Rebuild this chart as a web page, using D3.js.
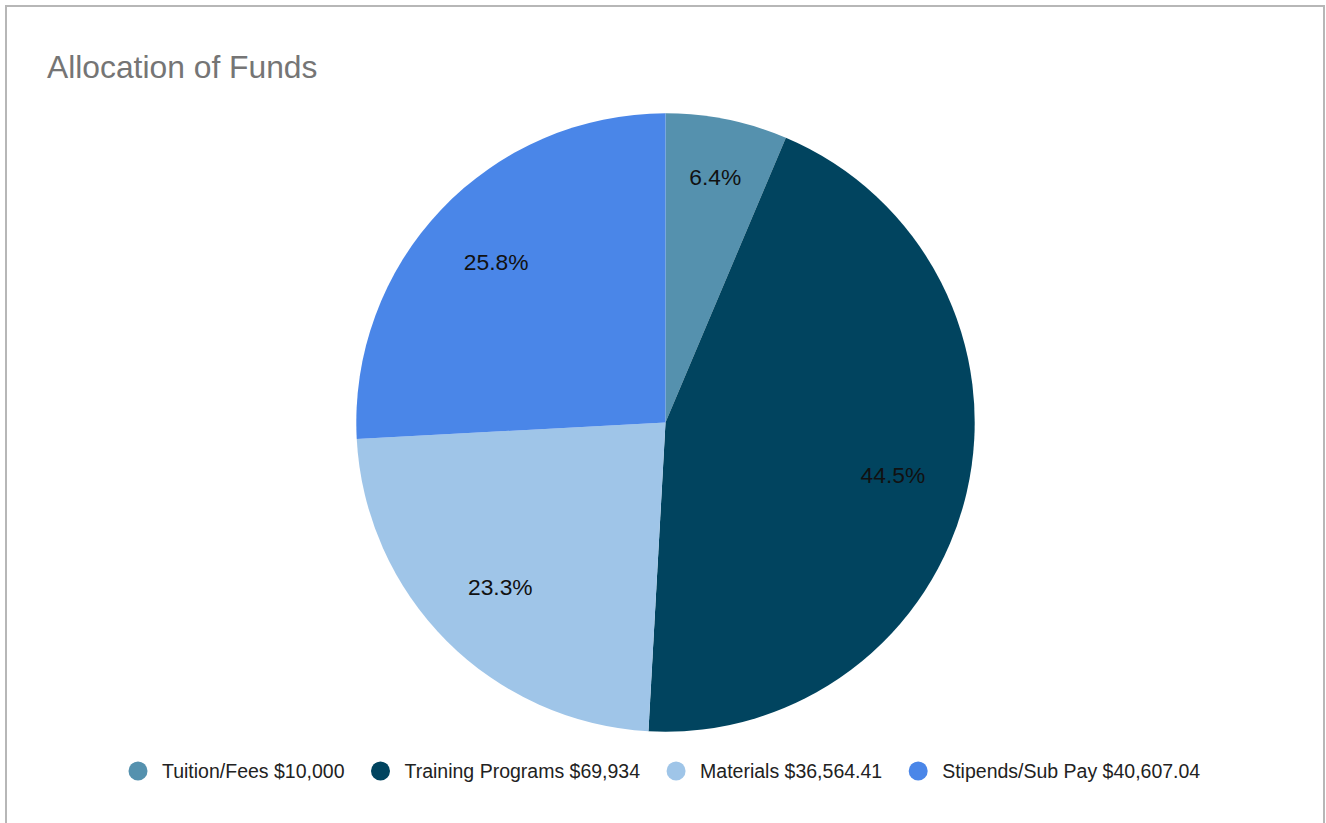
<!DOCTYPE html>
<html>
<head>
<meta charset="utf-8">
<script src="https://cdn.jsdelivr.net/npm/d3@7"></script>
<style>
  html, body { margin: 0; padding: 0; background: #fff; }
  svg { display: block; font-family: "Liberation Sans", Arial, sans-serif; }
</style>
</head>
<body>
<svg id="chart" width="1326" height="823"></svg>
<script>
const title = "Allocation of Funds";
const categories = ["Tuition/Fees", "Training Programs", "Materials", "Stipends/Sub Pay"];
const amounts = [10000, 69934, 36564.41, 40607.04];
const amountLabels = ["$10,000", "$69,934", "$36,564.41", "$40,607.04"];
const colors = ["#5591ae", "#01445f", "#9fc5e8", "#4a86e8"];

const svg = d3.select("#chart");

// frame
svg.append("rect")
  .attr("x", 6).attr("y", 6)
  .attr("width", 1318).attr("height", 830)
  .attr("fill", "#fff")
  .attr("stroke", "#b7b7b7").attr("stroke-width", 2);

// title
svg.append("text")
  .attr("x", 47).attr("y", 78)
  .attr("font-size", 31.8)
  .attr("fill", "#757575")
  .text(title);

const data = categories.map((c, i) => ({ name: c, value: amounts[i], label: amountLabels[i], color: colors[i] }));
const total = d3.sum(amounts);

const cx = 665.5, cy = 422.5, r = 309.2;
const pie = d3.pie().value(d => d.value).sort(null);
const arcs = pie(data);
const arc = d3.arc().innerRadius(0).outerRadius(r);

const g = svg.append("g").attr("transform", `translate(${cx},${cy})`);
g.selectAll("path.slice")
  .data(arcs)
  .join("path")
  .attr("class", "slice")
  .attr("d", arc)
  .attr("fill", d => d.data.color);

const fmt = d3.format(".1%");
g.selectAll("text.pct")
  .data(arcs)
  .join("text")
  .attr("class", "pct")
  .each(function(d) {
    const span = d.endAngle - d.startAngle;
    const lr = span < 0.6 ? r * 0.81 : r * 0.755;
    const a = (d.startAngle + d.endAngle) / 2;
    d3.select(this)
      .attr("x", lr * Math.sin(a))
      .attr("y", -lr * Math.cos(a));
  })
  .attr("text-anchor", "middle")
  .attr("dominant-baseline", "central")
  .attr("font-size", 22.8)
  .attr("fill", "#111")
  .text(d => fmt(d.data.value / total));

// legend
const legend = svg.append("g").attr("class", "legend");
const legendY = 771;
const fontSize = 19.5;
const items = legend.selectAll("g.item")
  .data(data)
  .join("g")
  .attr("class", "item");
items.append("circle")
  .attr("r", 9.5)
  .attr("cy", legendY)
  .attr("fill", d => d.color);
items.append("text")
  .attr("y", legendY)
  .attr("dominant-baseline", "central")
  .attr("font-size", fontSize)
  .attr("fill", "#222")
  .text(d => `${d.name} ${d.label}`);

let widths = [];
items.each(function() {
  widths.push(d3.select(this).select("text").node().getComputedTextLength());
});
const circleToText = 24, gap = 26.5;
let x = 128.5;
items.each(function(d, i) {
  const it = d3.select(this);
  it.select("circle").attr("cx", x + 9.5);
  it.select("text").attr("x", x + 9.5 + circleToText);
  x += 9.5 + circleToText + widths[i] + gap;
});
</script>
</body>
</html>
